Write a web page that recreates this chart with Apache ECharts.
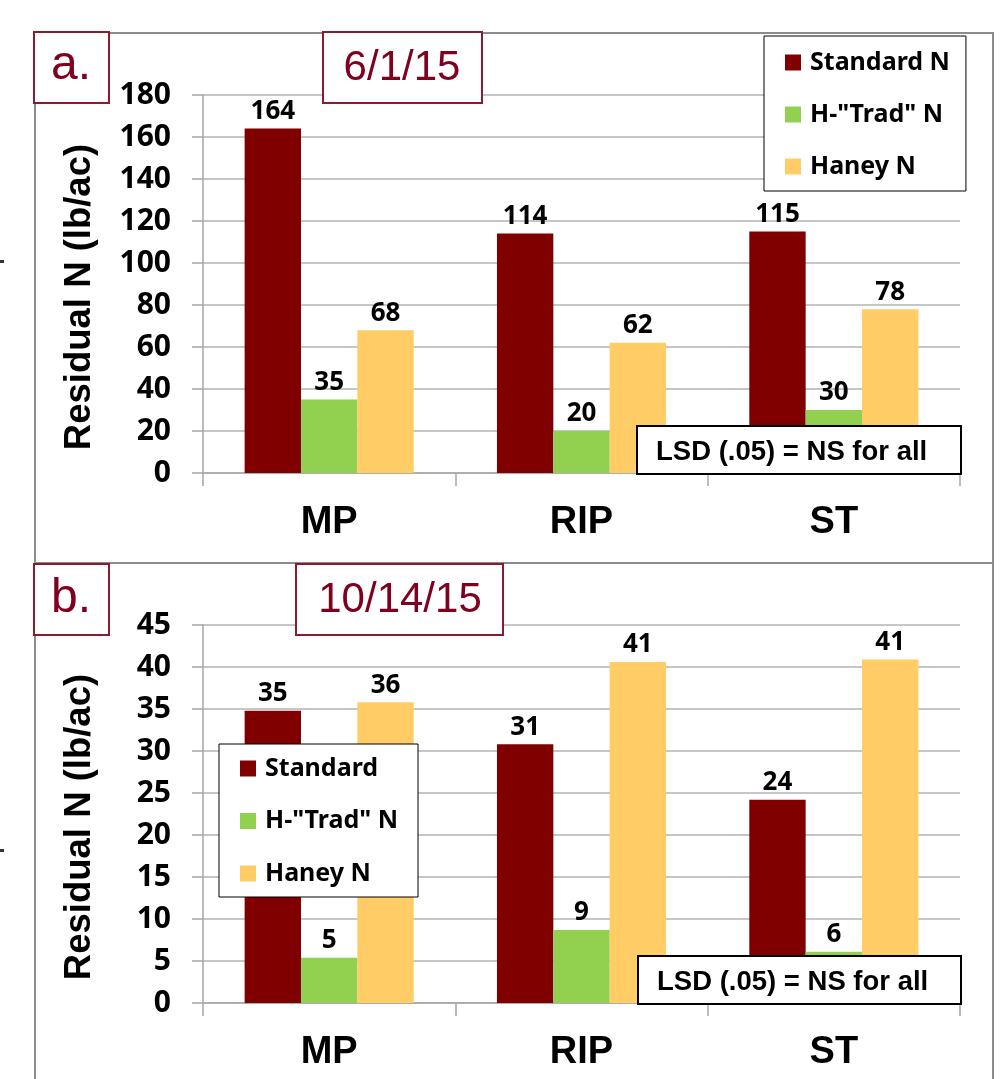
<!DOCTYPE html>
<html>
<head>
<meta charset="utf-8">
<script src="https://cdn.jsdelivr.net/npm/echarts@6/dist/echarts.min.js"></script>
<style>
html,body{margin:0;padding:0;background:#fff;}
#chart{width:1007px;height:1079px;}
</style>
</head>
<body>
<div id="chart"></div>
<script>
// ---- data ----
const categories = ['MP', 'RIP', 'ST'];
const seriesNamesJune = ['Standard N', 'H-"Trad" N', 'Haney N'];
const seriesNamesOct = ['Standard', 'H-"Trad" N', 'Haney N'];
const standardJune = [164, 114, 115];
const tradJune = [35, 20, 30];
const haneyJune = [68, 62, 78];
const standardOct = [34.8, 30.8, 24.2];
const tradOct = [5.4, 8.7, 6.1];
const haneyOct = [35.8, 40.6, 40.9];
const yMaxJune = 180, yStepJune = 20;
const yMaxOct = 45, yStepOct = 5;
const panelLabels = ['a.', 'b.'];
const panelDates = ['6/1/15', '10/14/15'];
const yAxisTitle = 'Residual N (lb/ac)';
const lsdNote = 'LSD (.05) = NS for all';

// ---- styles ----
const colors = ['#800000', '#92d050', '#ffcc66'];
const gray = '#a6a6a6';
const darkRed = '#8c1a2f';
const labelFont = {fontFamily: 'Noto Sans', fontWeight: 'bold', fontSize: 26, color: '#000'};

function barSeries(name, data, color, idx) {
  return {
    type: 'bar', name: name, data: data, xAxisIndex: idx, yAxisIndex: idx,
    barGap: '0%', barCategoryGap: '33%',
    itemStyle: {color: color},
    label: Object.assign({show: true, position: 'top', distance: 4,
      formatter: p => Math.round(p.value)}, labelFont),
    emphasis: {disabled: true}
  };
}

function xAxisCfg(idx) {
  return {
    type: 'category', gridIndex: idx, data: categories,
    axisLine: {lineStyle: {color: gray, width: 1.5}},
    axisTick: {show: true, length: 13, lineStyle: {color: gray, width: 1.5}},
    axisLabel: {fontFamily: 'Liberation Sans', fontWeight: 'bold', fontSize: 38, color: '#000', margin: 31}
  };
}
function yAxisCfg(idx, max, step) {
  return {
    type: 'value', gridIndex: idx, min: 0, max: max, interval: step,
    name: yAxisTitle, nameLocation: 'middle', nameGap: 105,
    nameTextStyle: {fontFamily: 'Liberation Sans', fontWeight: 'bold', fontSize: 36.5, color: '#000',
      padding: [0, 26, 0, 0]},
    axisLine: {show: true, lineStyle: {color: gray, width: 1.5}},
    axisTick: {show: true, length: 11, lineStyle: {color: gray, width: 1.5}},
    splitLine: {lineStyle: {color: '#b3b3b3', width: 1.5}},
    axisLabel: {fontFamily: 'Noto Sans', fontWeight: 'bold', fontSize: 30, color: '#000', margin: 32}
  };
}
function legendCfg(names, left, top, padding, gap, textW) {
  return {
    data: names, orient: 'vertical', left: left, top: top, padding: padding,
    itemGap: gap, itemWidth: 16, itemHeight: 16, icon: 'rect',
    backgroundColor: '#fff', borderColor: '#000', borderWidth: 1,
    selectedMode: false, z: 10,
    textStyle: {fontFamily: 'Noto Sans', fontWeight: 'bold', fontSize: 25, color: '#000',
      width: textW, padding: [0, 0, 0, 4]}
  };
}
function boxText(x, y, w, h, txt, fontSize, tx, ty) {
  return [
    {type: 'rect', z: 100, shape: {x: x, y: y, width: w, height: h},
      style: {fill: '#fff', stroke: darkRed, lineWidth: 2}},
    {type: 'text', z: 101, style: {x: tx, y: ty, text: txt, fill: '#800020',
      font: fontSize + 'px "Liberation Sans"', textAlign: 'center', textVerticalAlign: 'middle'}}
  ];
}
function lsdBox(x, y, w, h) {
  return [
    {type: 'rect', z: 100, shape: {x: x, y: y, width: w, height: h},
      style: {fill: '#fff', stroke: '#000', lineWidth: 2}},
    {type: 'text', z: 101, style: {x: x + 19, y: y + h / 2 + 2, text: lsdNote, fill: '#000',
      font: 'bold 27.5px "Liberation Sans"', textAlign: 'left', textVerticalAlign: 'middle'}}
  ];
}

const graphics = [].concat(
  [
    {type: 'rect', z: 50, shape: {x: 35, y: 33, width: 958, height: 530},
      style: {fill: 'none', stroke: '#8c8c8c', lineWidth: 2}},
    {type: 'line', z: 50, shape: {x1: 35, y1: 563, x2: 35, y2: 1080}, style: {stroke: '#8c8c8c', lineWidth: 2}},
    {type: 'line', z: 50, shape: {x1: 993, y1: 563, x2: 993, y2: 1080}, style: {stroke: '#8c8c8c', lineWidth: 2}},
    {type: 'rect', z: 50, shape: {x: 0, y: 260, width: 4, height: 3}, style: {fill: '#333'}},
    {type: 'rect', z: 50, shape: {x: 0, y: 849, width: 4, height: 3}, style: {fill: '#333'}}
  ],
  boxText(34, 32, 75, 71, panelLabels[0], 48, 71, 66),
  boxText(323, 32, 159, 71, panelDates[0], 42, 402, 68),
  boxText(34, 564, 75, 71, panelLabels[1], 48, 71, 599),
  boxText(296, 564, 207, 71, panelDates[1], 42, 400, 600),
  lsdBox(637, 426, 324, 48),
  lsdBox(638, 956, 323, 48)
);

const option = {
  backgroundColor: '#fff',
  animation: false,
  grid: [
    {left: 203, top: 95, width: 757, height: 378},
    {left: 203, top: 625, width: 757, height: 378}
  ],
  xAxis: [xAxisCfg(0), xAxisCfg(1)],
  yAxis: [yAxisCfg(0, yMaxJune, yStepJune), yAxisCfg(1, yMaxOct, yStepOct)],
  legend: [
    legendCfg(seriesNamesJune, 764, 36, [14, 16, 12, 21], 27, 132),
    legendCfg(seriesNamesOct, 219, 744, [12, 20, 11, 21], 27.5, 134)
  ],
  series: [
    barSeries(seriesNamesJune[0], standardJune, colors[0], 0),
    barSeries(seriesNamesJune[1], tradJune, colors[1], 0),
    barSeries(seriesNamesJune[2], haneyJune, colors[2], 0),
    barSeries(seriesNamesOct[0], standardOct, colors[0], 1),
    barSeries(seriesNamesOct[1], tradOct, colors[1], 1),
    barSeries(seriesNamesOct[2], haneyOct, colors[2], 1)
  ],
  graphic: graphics
};

const chart = echarts.init(document.getElementById('chart'), null, {renderer: 'canvas'});
chart.setOption(option);
</script>
</body>
</html>
